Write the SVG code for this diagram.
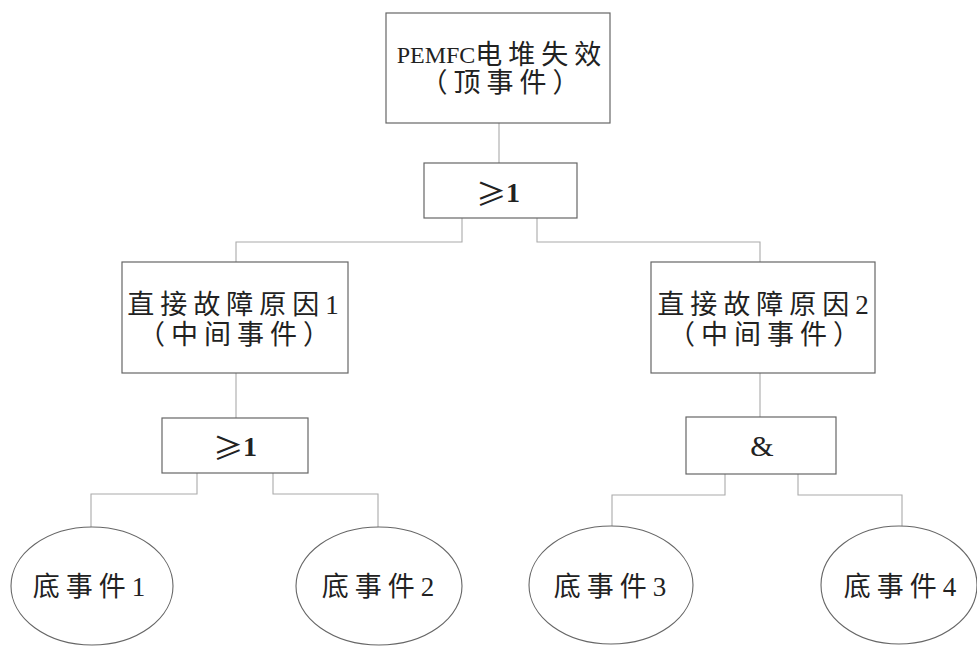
<svg xmlns="http://www.w3.org/2000/svg" width="977" height="646" viewBox="0 0 977 646">
<style>
.box{fill:#fff;stroke:#666;stroke-width:1.2}
.ell{fill:#fff;stroke:#666;stroke-width:1.1}
.ln{fill:none;stroke:#aaa;stroke-width:1.1}
.t{font-family:"Liberation Serif","Noto Sans CJK SC",serif;font-size:27px;fill:#222;text-anchor:middle;dominant-baseline:central;letter-spacing:6px}
.lat{font-size:24px;letter-spacing:0}
.g{font-family:"Noto Sans CJK SC",sans-serif;font-size:30px;fill:#222;text-anchor:middle;dominant-baseline:central}
.gd{font-family:"Liberation Serif",serif;font-weight:bold;font-size:28px}
.amp{font-family:"Liberation Serif",serif;font-size:30px;fill:#222;text-anchor:middle;dominant-baseline:central}
</style>
<rect width="977" height="646" fill="#fff"/>
<g id="connectors">
<path class="ln" d="M499,123 V163"/>
<path class="ln" d="M462,218 V242 H236 V262"/>
<path class="ln" d="M537,218 V242 H760 V262"/>
<path class="ln" d="M236,373 V418"/>
<path class="ln" d="M760,373 V417"/>
<path class="ln" d="M197,473 V494 H91 V527"/>
<path class="ln" d="M273,473 V494 H378 V527"/>
<path class="ln" d="M725,474 V495 H612 V526"/>
<path class="ln" d="M798,474 V495 H902 V526"/>
</g>
<g id="top">
<rect class="box" x="386" y="13" width="224" height="110"/>
<text class="t" x="502" y="55"><tspan class="lat">PEMFC</tspan>电堆失效</text>
<text class="t" x="503" y="83">（顶事件）</text>
</g>
<g id="gate1">
<rect class="box" x="424" y="163" width="153" height="55"/>
<text class="g" x="498" y="192">≥<tspan class="gd">1</tspan></text>
</g>
<g id="mid1">
<rect class="box" x="122" y="262" width="226" height="111"/>
<text class="t" x="236" y="305">直接故障原因1</text>
<text class="t" x="237" y="335">（中间事件）</text>
</g>
<g id="mid2">
<rect class="box" x="651" y="262" width="224" height="111"/>
<text class="t" x="766" y="305">直接故障原因2</text>
<text class="t" x="767" y="335">（中间事件）</text>
</g>
<g id="gate2">
<rect class="box" x="162" y="418" width="146" height="55"/>
<text class="g" x="235" y="446">≥<tspan class="gd">1</tspan></text>
</g>
<g id="gate3">
<rect class="box" x="686" y="417" width="150" height="57"/>
<text class="amp" x="762" y="445">&amp;</text>
</g>
<g id="basic1">
<ellipse class="ell" cx="92" cy="586" rx="81" ry="59"/>
<text class="t" x="92" y="587">底事件1</text>
</g>
<g id="basic2">
<ellipse class="ell" cx="379" cy="586" rx="83" ry="59"/>
<text class="t" x="381" y="587">底事件2</text>
</g>
<g id="basic3">
<ellipse class="ell" cx="611" cy="585" rx="82" ry="59"/>
<text class="t" x="613" y="587">底事件3</text>
</g>
<g id="basic4">
<ellipse class="ell" cx="899" cy="585" rx="78" ry="59"/>
<text class="t" x="903" y="587">底事件4</text>
</g>
</svg>
